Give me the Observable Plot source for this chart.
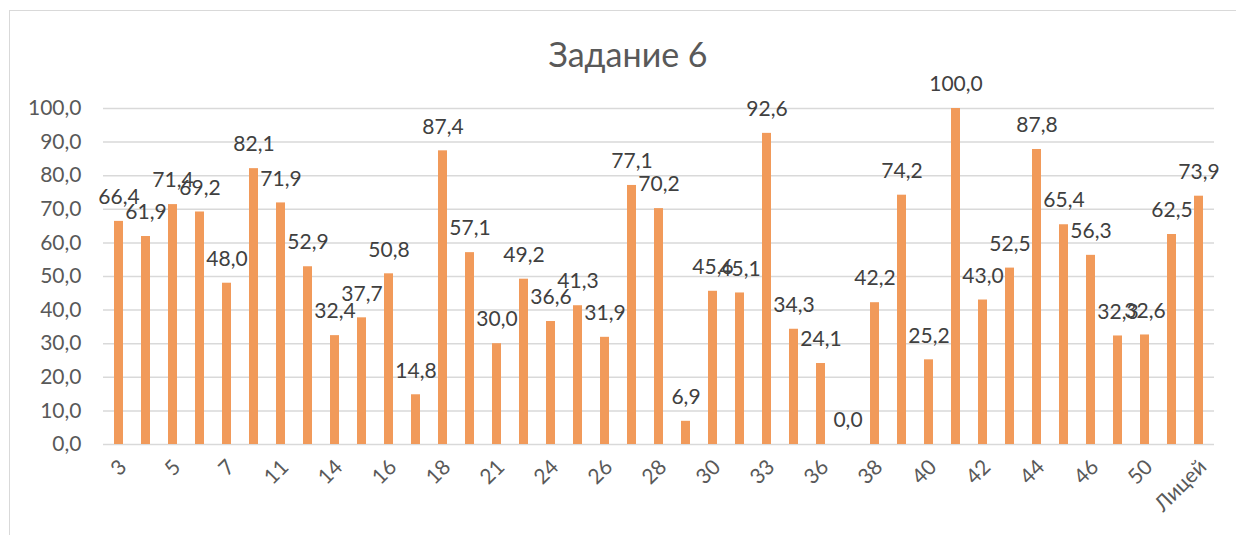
<!DOCTYPE html>
<html><head><meta charset="utf-8">
<script src="https://cdn.jsdelivr.net/npm/d3@7"></script>
<script src="https://cdn.jsdelivr.net/npm/@observablehq/plot@0.6"></script>
<style>
html,body{margin:0;padding:0;background:#fff;overflow:hidden;}
#wrap{position:relative;width:1236px;height:535px;overflow:hidden;font-family:Lato, sans-serif;}
#frame{position:absolute;left:9px;top:10px;width:1400px;height:800px;border:1.5px solid #d9d9d9;box-sizing:border-box;}
#title{position:absolute;left:20px;width:1216px;top:33px;text-align:center;font-size:34px;color:#595959;line-height:42px;}
#chart{position:absolute;left:0;top:0;}
</style></head>
<body>
<div id="wrap"><div id="frame"></div><div id="chart"></div><div id="title">Задание 6</div></div>
<script>
const schools = ["3","4","5","6","7","10","11","13","14","15","16","17","18","20","21","23","24","25","26","27","28","29","30","32","33","35","36","37","38","39","40","41","42","43","44","45","46","49","50","52","Лицей"];
const values = [66.4,61.9,71.4,69.2,48.0,82.1,71.9,52.9,32.4,37.7,50.8,14.8,87.4,57.1,30.0,49.2,36.6,41.3,31.9,77.1,70.2,6.9,45.6,45.1,92.6,34.3,24.1,0.0,42.2,74.2,25.2,100.0,43.0,52.5,87.8,65.4,56.3,32.3,32.6,62.5,73.9];
const shownLabels = ["3","5","7","11","14","16","18","21","24","26","28","30","33","36","38","40","42","44","46","50","Лицей"];
const yTicks = [0,10,20,30,40,50,60,70,80,90,100];

const data = schools.map((s, i) => ({school: s, value: values[i]}));
const fmt = d => d.toFixed(1).replace(".", ",");

const chart = Plot.plot({
  width: 1236, height: 535,
  marginLeft: 103, marginRight: 22, marginTop: 108, marginBottom: 91,
  style: {fontFamily: "Lato, sans-serif", fontSize: "21px", color: "#595959", background: "transparent", overflow: "visible"},
  x: {domain: schools, paddingInner: 0.67, paddingOuter: 0.335, label: null},
  y: {domain: [0, 100], label: null},
  marks: [
    Plot.gridY(yTicks, {stroke: "#d9d9d9", strokeOpacity: 1, strokeWidth: 1.5}),
    Plot.barY(data, {x: "school", y: "value", fill: "#f19a5a"}),
    Plot.text(data, {x: "school", y: "value", text: d => fmt(d.value), dy: -24, fill: "#404040", fontSize: 21}),
    Plot.axisY(yTicks, {tickSize: 0, tickPadding: 22, tickFormat: fmt, fill: "#595959", fontSize: 21, label: null}),
    Plot.axisX(shownLabels, {tickSize: 0, tickRotate: -45, tickPadding: 19, dx: 4, fill: "#595959", fontSize: 21, label: null})
  ]
});
document.getElementById("chart").appendChild(chart);
</script>
</body></html>
